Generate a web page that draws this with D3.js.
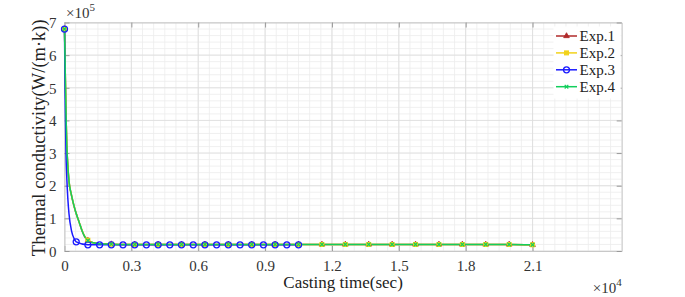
<!DOCTYPE html>
<html>
<head>
<meta charset="utf-8">
<script src="https://cdn.jsdelivr.net/npm/d3@7"></script>
</head>
<body style="margin:0">
<script>
// casting time (sec) for Exp.1, Exp.2 and Exp.4
var timeA = [0, 67, 100, 150, 200, 300, 400, 500, 650, 800, 900, 1050, 1300, 1575, 2100,
  3150, 4200, 5250, 6300, 7350, 8400, 9450, 10500, 11550, 12600, 13650, 14700,
  15750, 16800, 17850, 18900, 19950, 21000];
var exp1 = [6.8, 4.2, 3.3, 2.6, 2.15, 1.75, 1.45, 1.2, 0.9, 0.6, 0.45, 0.32, 0.25, 0.22, 0.21,
  0.2, 0.2, 0.2, 0.2, 0.2, 0.2, 0.2, 0.2, 0.2, 0.2, 0.2, 0.2, 0.2, 0.2, 0.2, 0.2, 0.2, 0.19];
var exp2 = [6.8, 4.2, 3.3, 2.6, 2.15, 1.75, 1.45, 1.2, 0.9, 0.61, 0.46, 0.33, 0.25, 0.22, 0.21,
  0.2, 0.2, 0.2, 0.2, 0.2, 0.2, 0.2, 0.2, 0.2, 0.2, 0.2, 0.2, 0.2, 0.2, 0.2, 0.2, 0.2, 0.19];
var exp4 = [6.8, 4.2, 3.3, 2.6, 2.15, 1.75, 1.45, 1.2, 0.9, 0.6, 0.45, 0.32, 0.25, 0.22, 0.21,
  0.2, 0.2, 0.2, 0.2, 0.2, 0.2, 0.2, 0.2, 0.2, 0.2, 0.2, 0.2, 0.2, 0.2, 0.2, 0.2, 0.2, 0.19];

// casting time (sec) for Exp.3
var timeB = [0, 25, 45, 67, 100, 150, 200, 320, 430, 525, 1050, 1575, 2100, 2625, 3150,
  3675, 4200, 4725, 5250, 5775, 6300, 6825, 7350, 7875, 8400, 8925, 9450, 9975, 10500];
var exp3 = [6.8, 5.0, 4.0, 3.0, 2.3, 1.6, 1.15, 0.6, 0.38, 0.28, 0.19, 0.19, 0.19, 0.19, 0.19,
  0.19, 0.19, 0.19, 0.19, 0.19, 0.19, 0.19, 0.19, 0.19, 0.19, 0.19, 0.19, 0.19, 0.19];

var xTicks = [0, 3000, 6000, 9000, 12000, 15000, 18000, 21000];
var yTicks = [0, 1, 2, 3, 4, 5, 6, 7];
var names = ["Exp.1", "Exp.2", "Exp.3", "Exp.4"];
var colors = ["#b02a2a", "#f2d21b", "#1a1aff", "#12cf5c"];

var fontName = "Liberation Serif";

var W = 685, H = 297;
var margin = {top: 22.5, right: 63.3, bottom: 46, left: 64.5},
  w = W - margin.left - margin.right,
  h = H - margin.top - margin.bottom;

var xScale = d3.scaleLinear().domain([0, 25000]).range([0, w]);
var yScale = d3.scaleLinear().domain([0, 7]).range([h, 0]);

var svg = d3.select("body").append("svg")
  .attr("width", W).attr("height", H);
var g = svg.append("g")
  .attr("transform", "translate(" + margin.left + "," + margin.top + ")");

// minor grid
g.append("g").selectAll("line")
  .data(d3.range(0, 25001, 500))
  .enter().append("line")
  .attr("x1", function (d) { return xScale(d); })
  .attr("x2", function (d) { return xScale(d); })
  .attr("y1", 0).attr("y2", h)
  .attr("stroke", "#ececec").attr("stroke-width", 0.8);
g.append("g").selectAll("line")
  .data(d3.range(0, 7.01, 0.2))
  .enter().append("line")
  .attr("y1", function (d) { return yScale(d); })
  .attr("y2", function (d) { return yScale(d); })
  .attr("x1", 0).attr("x2", w)
  .attr("stroke", "#ececec").attr("stroke-width", 0.8);

// major grid
g.append("g").selectAll("line")
  .data(xTicks)
  .enter().append("line")
  .attr("x1", function (d) { return xScale(d); })
  .attr("x2", function (d) { return xScale(d); })
  .attr("y1", 0).attr("y2", h)
  .attr("stroke", "#dcdcdc").attr("stroke-width", 0.8);
g.append("g").selectAll("line")
  .data(yTicks)
  .enter().append("line")
  .attr("y1", function (d) { return yScale(d); })
  .attr("y2", function (d) { return yScale(d); })
  .attr("x1", 0).attr("x2", w)
  .attr("stroke", "#dcdcdc").attr("stroke-width", 0.8);

// axes (ticks point inward, like matlab)
var xAxis = g.append("g").attr("transform", "translate(0," + h + ")")
  .call(d3.axisBottom(xScale).tickValues(xTicks).tickSizeInner(-5).tickSizeOuter(0)
    .tickPadding(9).tickFormat(function (d) { return d === 0 ? "0" : d3.format(".1f")(d / 10000); }));
var xTop = g.append("g")
  .call(d3.axisTop(xScale).tickValues(xTicks).tickSizeInner(-5).tickSizeOuter(0).tickFormat(""));
var yAxis = g.append("g")
  .call(d3.axisLeft(yScale).tickValues(yTicks).tickSizeInner(-5).tickSizeOuter(0)
    .tickPadding(8).tickFormat(d3.format("d")));
var yRight = g.append("g").attr("transform", "translate(" + w + ",0)")
  .call(d3.axisRight(yScale).tickValues(yTicks).tickSizeInner(-5).tickSizeOuter(0).tickFormat(""));

[xAxis, xTop, yAxis, yRight].forEach(function (a) {
  a.attr("font-family", null);
  a.select(".domain").attr("stroke", "#c8c8c8");
  a.selectAll(".tick line").attr("stroke", "#9a9a9a");
  a.selectAll(".tick text")
    .attr("font-size", "15px").attr("fill", "#333");
});
yAxis.selectAll(".tick text").attr("dy", "0.35em");

// series
function line(t) {
  return d3.line()
    .x(function (d, i) { return xScale(t[i]); })
    .y(function (d) { return yScale(d); })
    .curve(d3.curveMonotoneX);
}
var series = [
  {name: names[0], t: timeA, v: exp1, step: 1050, marker: "tri"},
  {name: names[1], t: timeA, v: exp2, step: 1050, marker: "sq"},
  {name: names[2], t: timeB, v: exp3, step: 525, marker: "circ"},
  {name: names[3], t: timeA, v: exp4, step: 1050, marker: "x"}
];

function drawMarker(sel, type, color) {
  if (type === "tri") {
    sel.append("path").attr("d", d3.symbol(d3.symbolTriangle, 14)())
      .attr("fill", color).attr("stroke", color).attr("stroke-width", 0.8);
  } else if (type === "sq") {
    sel.append("rect").attr("x", -2).attr("y", -2).attr("width", 4).attr("height", 4)
      .attr("fill", color).attr("stroke", color);
  } else if (type === "circ") {
    sel.append("circle").attr("r", 3)
      .attr("fill", "none").attr("stroke", color).attr("stroke-width", 1.3);
  } else {
    sel.append("path").attr("d", "M-1.8,-1.8L1.8,1.8M-1.8,1.8L1.8,-1.8")
      .attr("stroke", color).attr("stroke-width", 1.2);
  }
}

var plot = g.append("g");
series.forEach(function (s, k) {
  plot.append("path")
    .attr("d", line(s.t)(s.v))
    .attr("fill", "none")
    .attr("stroke", colors[k])
    .attr("stroke-width", 1.5);
});
series.forEach(function (s, k) {
  s.t.forEach(function (t, i) {
    if (t % s.step !== 0) return;
    var m = plot.append("g")
      .attr("transform", "translate(" + xScale(t) + "," + yScale(s.v[i]) + ")");
    drawMarker(m, s.marker, colors[k]);
  });
});

// legend
var leg = g.append("g");
leg.append("rect")
  .attr("x", 489).attr("y", 4).attr("width", w - 490).attr("height", 72)
  .attr("fill", "#fff");
names.forEach(function (n, k) {
  var y = 13.5 + k * 16.9;
  leg.append("line")
    .attr("x1", 491.5).attr("x2", 512.5).attr("y1", y).attr("y2", y)
    .attr("stroke", colors[k]).attr("stroke-width", 1.5);
  var m = leg.append("g").attr("transform", "translate(502," + y + ")");
  drawMarker(m, series[k].marker, colors[k]);
  leg.append("text")
    .attr("x", 515).attr("y", y).attr("dy", "0.35em")
    .attr("font-size", "15px").attr("fill", "#222")
    .text(n);
});

// labels
svg.append("text")
  .attr("x", margin.left + w / 2).attr("y", 288)
  .attr("text-anchor", "middle")
  .attr("font-size", "17px").attr("fill", "#222")
  .text("Casting time(sec)");
svg.append("text")
  .attr("transform", "translate(45," + (margin.top + h / 2 + 1) + ") rotate(-90)")
  .attr("text-anchor", "middle")
  .attr("font-size", "18.5px").attr("fill", "#222")
  .text("Thermal conductivity(W/(m\u00b7k))");

var e5 = svg.append("text").attr("x", 66).attr("y", 18)
  .attr("font-size", "15px").attr("fill", "#333");
e5.append("tspan").text("\u00d710");
e5.append("tspan").attr("dy", -7).attr("font-size", "11px").text("5");

var e4 = svg.append("text").attr("x", margin.left + w).attr("y", 293)
  .attr("text-anchor", "end")
  .attr("font-size", "15px").attr("fill", "#333");
e4.append("tspan").text("\u00d710");
e4.append("tspan").attr("dy", -7).attr("font-size", "11px").text("4");

// every text in the serif face
svg.selectAll("text").attr("font-family", fontName).style("font-family", fontName);
</script>
</body>
</html>
